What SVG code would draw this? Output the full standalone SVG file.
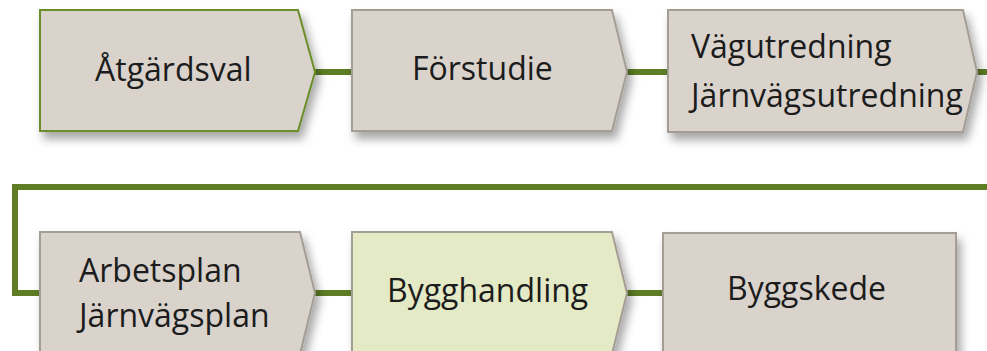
<svg xmlns="http://www.w3.org/2000/svg" width="987" height="351" viewBox="0 0 987 351">
<defs>
<filter id="sh" x="-10%" y="-10%" width="125%" height="135%">
<feDropShadow dx="4" dy="7" stdDeviation="5" flood-color="#000" flood-opacity="0.35"/>
</filter>
<style>
.box{fill:#d9d3cc;stroke:#a39d94;stroke-width:2;filter:url(#sh)}
.g{stroke:#6b8e2a}
.hl{fill:#e5eac6}
.t{font-family:"Open Sans","Noto Sans",sans-serif;font-size:32px;fill:#1c1c1c}
.c{fill:none;stroke:#5e7d24;stroke-width:6}
</style>
</defs>
<rect width="987" height="351" fill="#ffffff"/>
<g id="connectors">
<line class="c" x1="312" y1="72" x2="354" y2="72"/>
<line class="c" x1="624" y1="72" x2="670" y2="72"/>
<line class="c" x1="974" y1="72" x2="987" y2="72"/>
<polyline class="c" points="987,187 15,187 15,293 42,293"/>
<line class="c" x1="312" y1="293" x2="354" y2="293"/>
<line class="c" x1="624" y1="293" x2="665" y2="293"/>
</g>
<g id="n1">
<polygon class="box g" points="40,10 298,10 315,72 298,131 40,131"/>
<text class="t" x="95" y="81">Åtgärdsval</text>
</g>
<g id="n2">
<polygon class="box" points="352,10 612,10 627,72 612,131 352,131"/>
<text class="t" x="412" y="80">Förstudie</text>
</g>
<g id="n3">
<polygon class="box" points="668,10 963,10 977,72 963,132 668,132"/>
<text class="t" x="691" y="58">Vägutredning</text>
<text class="t" x="691" y="107">Järnvägsutredning</text>
</g>
<g id="n4">
<polygon class="box" points="40,232 300,232 315,293 300,354 40,354"/>
<text class="t" x="79" y="282">Arbetsplan</text>
<text class="t" x="79" y="327">Järnvägsplan</text>
</g>
<g id="n5">
<polygon class="box hl" points="352,232 612,232 627,293 612,354 352,354"/>
<text class="t" x="387" y="302">Bygghandling</text>
</g>
<g id="n6">
<rect class="box" x="663" y="233" width="293" height="121"/>
<text class="t" x="727" y="300">Byggskede</text>
</g>
</svg>
